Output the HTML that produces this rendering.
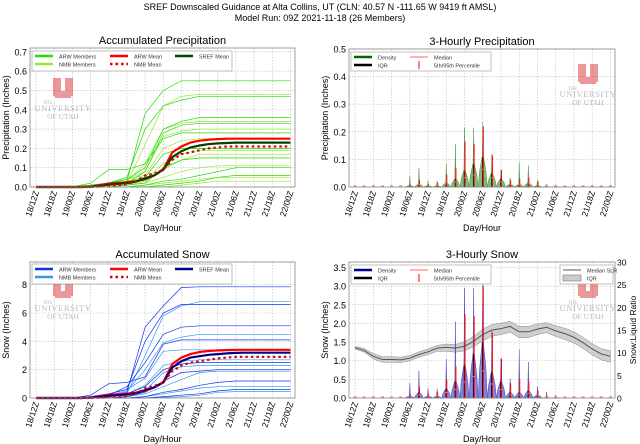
<!DOCTYPE html>
<html><head><meta charset="utf-8">
<style>
html,body{margin:0;padding:0;background:#fff;}
svg{display:block;font-family:"Liberation Sans","DejaVu Sans",sans-serif;}
</style></head>
<body>
<svg id="chart" width="640" height="444" viewBox="0 0 640 444" xmlns="http://www.w3.org/2000/svg">
<text x="320" y="10" font-size="9" text-anchor="middle">SREF Downscaled Guidance at Alta Collins, UT (CLN: 40.57 N -111.65 W 9419 ft AMSL)</text>
<text x="320" y="21" font-size="9" text-anchor="middle">Model Run: 09Z 2021-11-18 (26 Members)</text>
</svg>
<script>
// ---------- data ----------
const tickLabels = ["18/12Z","18/18Z","19/00Z","19/06Z","19/12Z","19/18Z","20/00Z","20/06Z","20/12Z","20/18Z","21/00Z","21/06Z","21/12Z","21/18Z","22/00Z"];
const tickHours = [0,6,12,18,24,30,36,42,48,54,60,66,72,78,84];
const memberHours = [0,6,12,18,24,30,36,42,48,54,60,66,72,78,84];
const meanHours = [0,3,6,9,12,15,18,21,24,27,30,33,36,39,42,45,48,51,54,57,60,63,66,69,72,75,78,81,84];
// accumulated precip members (inches)
const precipArw = [
 [0,0,0,0,0.01,0.03,0.38,0.50,0.55,0.55,0.55,0.55,0.55,0.55,0.55],
 [0,0,0,0,0.02,0.05,0.30,0.42,0.45,0.47,0.47,0.47,0.47,0.47,0.47],
 [0,0,0,0.01,0.02,0.04,0.10,0.30,0.34,0.36,0.36,0.36,0.36,0.36,0.36],
 [0,0,0,0,0.01,0.02,0.08,0.28,0.32,0.33,0.33,0.33,0.33,0.33,0.33],
 [0,0,0,0.02,0.09,0.09,0.12,0.25,0.28,0.28,0.28,0.28,0.28,0.28,0.28],
 [0,0,0,0,0.01,0.03,0.05,0.17,0.20,0.20,0.20,0.20,0.20,0.20,0.20],
 [0,0,0,0,0,0.01,0.02,0.10,0.14,0.15,0.15,0.15,0.15,0.15,0.15],
 [0,0,0,0,0,0,0.01,0.03,0.04,0.06,0.08,0.10,0.10,0.10,0.10],
 [0,0,0,0,0,0,0,0.01,0.02,0.03,0.05,0.06,0.06,0.06,0.06]];
const precipNmb = [
 [0,0,0,0,0.01,0.02,0.22,0.42,0.47,0.48,0.48,0.48,0.48,0.48,0.48],
 [0,0,0,0,0.01,0.03,0.12,0.30,0.33,0.34,0.34,0.34,0.34,0.34,0.34],
 [0,0,0,0,0.02,0.04,0.08,0.26,0.29,0.30,0.30,0.30,0.30,0.30,0.30],
 [0,0,0,0.01,0.02,0.04,0.06,0.20,0.24,0.25,0.25,0.25,0.25,0.25,0.25],
 [0,0,0,0,0.01,0.02,0.04,0.12,0.17,0.19,0.19,0.19,0.19,0.19,0.19],
 [0,0,0,0,0,0.01,0.03,0.09,0.14,0.17,0.17,0.17,0.17,0.17,0.17],
 [0,0,0,0,0,0.01,0.02,0.05,0.08,0.10,0.11,0.11,0.11,0.11,0.11],
 [0,0,0,0,0,0,0.01,0.02,0.03,0.04,0.05,0.05,0.05,0.05,0.05],
 [0,0,0,0,0,0,0,0,0.01,0.02,0.03,0.03,0.03,0.03,0.03]];
const precipArwMean = [0,0,0,0,0,0,0.002,0.01,0.018,0.022,0.025,0.03,0.04,0.06,0.09,0.18,0.21,0.23,0.24,0.245,0.248,0.25,0.25,0.25,0.25,0.25,0.25,0.25,0.25];
const precipNmbMean = [0,0,0,0,0,0,0,0.002,0.005,0.01,0.015,0.03,0.06,0.07,0.09,0.14,0.17,0.18,0.19,0.2,0.205,0.21,0.21,0.21,0.21,0.21,0.21,0.21,0.21];
const precipSrefMean = [0,0,0,0,0,0,0.001,0.006,0.012,0.016,0.02,0.028,0.045,0.06,0.09,0.155,0.185,0.205,0.215,0.222,0.226,0.228,0.23,0.23,0.23,0.23,0.23,0.23,0.23];
// accumulated snow members (inches)
const snowArw = [
 [0,0,0,0,0.2,0.4,5.0,6.5,7.8,7.85,7.85,7.85,7.85,7.85,7.85],
 [0,0,0,0.1,0.3,0.6,4.0,6.0,6.6,6.6,6.6,6.6,6.6,6.6,6.6],
 [0,0,0,0,0.2,0.8,2.5,4.5,5.0,5.1,5.1,5.1,5.1,5.1,5.1],
 [0,0,0,0.2,1.0,1.1,1.5,3.8,4.1,4.1,4.1,4.1,4.1,4.1,4.1],
 [0,0,0,0,0.1,0.3,0.8,2.0,2.4,2.5,2.5,2.5,2.5,2.5,2.5],
 [0,0,0,0,0,0.1,0.4,1.2,1.8,1.9,2.0,2.0,2.0,2.0,2.0],
 [0,0,0,0,0,0,0.1,0.4,0.6,0.9,1.1,1.2,1.2,1.2,1.2],
 [0,0,0,0,0,0,0,0.1,0.2,0.3,0.5,0.6,0.6,0.6,0.6]];
const snowNmb = [
 [0,0,0,0,0.1,0.3,3.0,5.8,6.5,6.8,6.8,6.8,6.8,6.8,6.8],
 [0,0,0,0,0.2,0.5,2.0,3.9,4.3,4.5,4.5,4.5,4.5,4.5,4.5],
 [0,0,0,0.1,0.3,0.6,1.4,3.3,3.4,3.4,3.4,3.4,3.4,3.4,3.4],
 [0,0,0,0,0.1,0.3,0.9,2.3,2.6,2.7,2.7,2.7,2.7,2.7,2.7],
 [0,0,0,0,0,0.1,0.5,1.8,2.2,2.3,2.3,2.3,2.3,2.3,2.3],
 [0,0,0,0,0,0.1,0.3,0.8,1.3,1.8,1.9,1.9,1.9,1.9,1.9],
 [0,0,0,0,0,0,0.1,0.3,0.5,0.7,0.8,0.8,0.8,0.8,0.8],
 [0,0,0,0,0,0,0,0.05,0.1,0.2,0.4,0.45,0.45,0.45,0.45]];
const snowArwMean = [0,0,0,0,0,0,0.03,0.12,0.22,0.26,0.3,0.38,0.5,0.75,1.1,2.4,2.85,3.1,3.25,3.32,3.36,3.38,3.4,3.4,3.4,3.4,3.4,3.4,3.4];
const snowNmbMean = [0,0,0,0,0,0,0,0.02,0.05,0.1,0.15,0.3,0.7,0.85,1.1,1.9,2.3,2.5,2.6,2.7,2.8,2.85,2.9,2.9,2.9,2.9,2.9,2.9,2.9];
const snowSrefMean = [0,0,0,0,0,0,0.02,0.08,0.15,0.2,0.25,0.34,0.55,0.75,1.1,2.15,2.6,2.85,2.95,3.05,3.1,3.15,3.18,3.2,3.2,3.2,3.2,3.2,3.2];
// 3-hourly precip distribution
const pcpMax = [0,0,0,0,0,0,0.04,0.07,0.022,0.022,0.085,0.155,0.215,0.215,0.235,0.12,0.065,0.033,0.09,0.078,0.025,0.012,0.005,0,0,0,0,0,0];
const pcpP95 = [0,0,0,0,0,0,0.01,0.025,0.01,0.015,0.045,0.07,0.165,0.155,0.22,0.115,0.06,0.025,0.03,0.035,0.02,0.005,0,0,0,0,0,0,0];
const pcpQ75 = [0,0,0,0,0,0,0.005,0.01,0.004,0.004,0.015,0.03,0.06,0.085,0.11,0.05,0.03,0.01,0.01,0.015,0.005,0,0,0,0,0,0,0,0];
const pcpMedian = [0,0,0,0,0,0,0.002,0.005,0.002,0.002,0.008,0.015,0.03,0.04,0.06,0.03,0.015,0.005,0.005,0.008,0.002,0,0,0,0,0,0,0,0];
// 3-hourly snow distribution
const snowMax = [0,0,0,0,0,0,0.4,0.73,0.25,0.25,1.05,2.05,2.95,2.95,3.15,1.8,1.08,0.52,1.3,0.97,0.3,0.17,0.08,0,0,0,0,0,0];
const snowP95 = [0,0,0,0,0,0,0.1,0.3,0.12,0.15,0.5,0.85,2.25,2.2,3.0,1.75,1.05,0.4,0.5,0.45,0.2,0.05,0,0,0,0,0,0,0];
const snowQ75 = [0,0,0,0,0,0,0.05,0.15,0.05,0.05,0.25,0.45,0.9,1.2,1.5,0.7,0.45,0.15,0.15,0.2,0.08,0,0,0,0,0,0,0,0];
const snowMedian = [0,0,0,0,0,0,0.02,0.06,0.02,0.02,0.12,0.2,0.4,0.55,0.7,0.35,0.2,0.06,0.06,0.1,0.03,0,0,0,0,0,0,0,0];
const slrMedian = [11.1,10.5,9.2,8.5,8.5,8.4,8.8,9.6,10.2,11,11.2,11,11.4,12.5,14,15,15.3,15.8,14.6,14.6,15.2,15.6,14.8,14.2,13.4,12.2,10.8,9.7,9.2];
const slrQ25 = [10.8,10.1,8.6,7.9,7.9,7.8,8.2,9.0,9.6,10.3,10.3,10.1,10.4,11.3,12.6,13.6,14.0,14.5,13.3,13.3,14.0,14.4,13.6,12.9,12.1,10.9,9.5,8.4,7.9];
const slrQ75 = [11.4,10.9,9.8,9.1,9.1,9.0,9.4,10.2,10.8,11.6,11.9,11.8,12.4,13.6,15.2,16.2,16.5,16.9,15.8,15.8,16.3,16.6,15.9,15.4,14.6,13.4,12.0,10.9,10.4];

// ---------- drawing ----------
const svg = document.getElementById('chart');
const NS = 'http://www.w3.org/2000/svg';
function mk(tag, attrs, parent){ const e=document.createElementNS(NS,tag); for(const k in attrs) e.setAttribute(k,attrs[k]); (parent||svg).appendChild(e); return e; }
const XMIN=-2, XMAX=85.5;
function panel(x0,x1,y0,y1,ymin,ymax){
  return {x0,x1,y0,y1,ymin,ymax,
   sx:h=>x0+(h-XMIN)/(XMAX-XMIN)*(x1-x0),
   sy:v=>y1-(v-ymin)/(ymax-ymin)*(y1-y0)};
}
function axes(p,name,title,ylabel,yticks,yfmt){
  const g=mk('g',{});
  
  
  tickHours.forEach((h,i)=>{
    const x=p.sx(h);
    const l=mk('line',{x1:x,x2:x,y1:p.y0,y2:p.y1,stroke:'#bbb','stroke-width':0.6,'stroke-dasharray':'1.5,1.5'},g);
    
    
    const t=mk('text',{'font-size':8.5,'text-anchor':'end',transform:`translate(${x+3},${p.y1+5}) rotate(-72)`},g);
    t.textContent=tickLabels[i];
    
    
  });
  yticks.forEach(v=>{
    const y=p.sy(v);
    const l=mk('line',{x1:p.x0,x2:p.x1,y1:y,y2:y,stroke:'#bbb','stroke-width':0.6,'stroke-dasharray':'1.5,1.5'},g);
    
    
    const t=mk('text',{x:p.x0-3,y:y+3.5,'font-size':9,'text-anchor':'end'},g);
    t.textContent=yfmt(v);
    
    
  });
  const tt=mk('text',{x:(p.x0+p.x1)/2,y:p.y0-4,'font-size':11,'text-anchor':'middle'},g);
  tt.textContent=title;
  
  
  const yl=mk('text',{'font-size':9,'text-anchor':'middle',transform:`translate(${p.x0-21},${(p.y0+p.y1)/2}) rotate(-90)`},g);
  yl.textContent=ylabel;
  
  
  const xl=mk('text',{x:(p.x0+p.x1)/2,y:p.y1+44,'font-size':9,'text-anchor':'middle'},g);
  xl.textContent='Day/Hour';
  
  
  return g;
}
function frame(p){
  const r=mk('rect',{x:p.x0,y:p.y0,width:p.x1-p.x0,height:p.y1-p.y0,fill:'none',stroke:'#888','stroke-width':0.8});
  
  
}
function line(p,hours,vals,color,w,dash,name){
  const d=vals.map((v,i)=>(i?'L':'M')+p.sx(hours[i]).toFixed(1)+','+p.sy(v).toFixed(1)).join('');
  const e=mk('path',{d,fill:'none',stroke:color,'stroke-width':w,'stroke-dasharray':dash||'none'});
  
  
}
function logo(cx,cy){
  const g=mk('g',{opacity:0.4});
  
  
  mk('path',{d:`M${cx-10},${cy-18}h8v13h4v-13h8v18h-2v2h-16v-2h-2z`,fill:'#cc0000'},g);
  const a=mk('text',{x:cx-20,y:cy+8,'font-size':5,fill:'#555','font-family':'Liberation Serif, serif'},g); a.textContent='THE';
  const b=mk('text',{x:cx,y:cy+15,'font-size':8.5,fill:'#555','text-anchor':'middle','font-family':'Liberation Serif, serif','letter-spacing':'0.6'},g); b.textContent='UNIVERSITY';
  const c=mk('text',{x:cx,y:cy+23,'font-size':7.5,fill:'#555','text-anchor':'middle','font-family':'Liberation Serif, serif'},g); c.textContent='OF UTAH';
}
function legend(x,y,w,h,items){
  const g=mk('g',{});
  
  
  mk('rect',{x,y,width:w,height:h,fill:'#fff',stroke:'#999','stroke-width':0.6},g);
  items.forEach(it=>{
    const e=mk('g',{},g);
    
    
    if(it.type==='line') mk('line',{x1:it.x,x2:it.x+18,y1:it.y,y2:it.y,stroke:it.c,'stroke-width':it.w||2.5,'stroke-dasharray':it.dash||'none'},e);
    if(it.type==='tick') mk('line',{x1:it.x+9,x2:it.x+9,y1:it.y-4,y2:it.y+4,stroke:it.c,'stroke-width':1},e);
    if(it.type==='box') mk('rect',{x:it.x,y:it.y-3,width:18,height:6,fill:'#ccc',stroke:'#777','stroke-width':0.6},e);
    const t=mk('text',{x:it.x+24,y:it.y+2.5,'font-size':5.5,fill:'#333'},e);
    t.textContent=it.t;
  });
}

// Panel 1: accumulated precip
const p1=panel(30,295,48,187,0,0.72);
axes(p1,'accumulated-precipitation-axes','Accumulated Precipitation','Precipitation (Inches)',[0,0.1,0.2,0.3,0.4,0.5,0.6,0.7],v=>v.toFixed(1));
logo(63,96);
precipNmb.forEach(m=>line(p1,memberHours,m,'#99e633',0.7,null,'nmb-member-line'));
precipArw.forEach(m=>line(p1,memberHours,m,'#22dd00',0.7,null,'arw-member-line'));
line(p1,meanHours,precipArwMean,'#ff0000',2.2,null,'arw-mean-line');
line(p1,meanHours,precipSrefMean,'#004400',2.2,null,'sref-mean-line');
line(p1,meanHours,precipNmbMean,'#dd0000',2.2,'2.5,3','nmb-mean-line');
frame(p1);
legend(32,51,200,20,[
 {type:'line',x:35,y:56,c:'#22dd00',t:'ARW Members'},{type:'line',x:35,y:64,c:'#99e633',t:'NMB Members'},
 {type:'line',x:110,y:56,c:'#ff0000',t:'ARW Mean'},{type:'line',x:110,y:64,c:'#dd0000',dash:'2.5,3',t:'NMB Mean'},
 {type:'line',x:175,y:56,c:'#004400',t:'SREF Mean'}]);

// Panel 3: accumulated snow
const p3=panel(30,295,262,398,0,9.6);
axes(p3,'accumulated-snow-axes','Accumulated Snow','Snow (Inches)',[0,2,4,6,8],v=>String(v));
logo(63,296);
snowNmb.forEach(m=>line(p3,memberHours,m,'#3399ee',0.7,null,'nmb-member-line'));
snowArw.forEach(m=>line(p3,memberHours,m,'#1133ee',0.7,null,'arw-member-line'));
line(p3,meanHours,snowArwMean,'#ff0000',2.2,null,'arw-mean-line');
line(p3,meanHours,snowSrefMean,'#000088',2.2,null,'sref-mean-line');
line(p3,meanHours,snowNmbMean,'#dd0000',2.2,'2.5,3','nmb-mean-line');
frame(p3);
legend(32,264,200,20,[
 {type:'line',x:35,y:269,c:'#1133ee',t:'ARW Members'},{type:'line',x:35,y:277,c:'#3399ee',t:'NMB Members'},
 {type:'line',x:110,y:269,c:'#ff0000',t:'ARW Mean'},{type:'line',x:110,y:277,c:'#dd0000',dash:'2.5,3',t:'NMB Mean'},
 {type:'line',x:175,y:269,c:'#000088',t:'SREF Mean'}]);

function violins(p,maxA,p95,q75,med,fill,dark){
  meanHours.forEach((h,i)=>{
    const x=p.sx(h), y0=p.sy(0);
    if(maxA[i]>0){
      const yt=p.sy(maxA[i]), ym=p.sy(q75[i]);
      const v=mk('path',{d:`M${x-4.5},${y0}Q${x-4},${(y0+ym)/2} ${x-0.6},${ym}L${x},${yt}L${x+0.6},${ym}Q${x+4},${(y0+ym)/2} ${x+4.5},${y0}Z`,fill:fill,'fill-opacity':0.6,stroke:fill,'stroke-width':0.4});
      
      
      const iq=mk('line',{x1:x,x2:x,y1:y0,y2:ym,stroke:dark,'stroke-width':1.5});
      
      
      const pc=mk('line',{x1:x+0.5,x2:x+0.5,y1:y0,y2:p.sy(p95[i]),stroke:'#ff0000','stroke-width':1});
      
      
    }
    const md=mk('line',{x1:x-1.5,x2:x+1.5,y1:p.sy(med[i])-1,y2:p.sy(med[i])-1,stroke:'#ff6666','stroke-width':1});
    
    
  });
}

// Panel 2: 3-hourly precip
const p2=panel(349,615,49,187,0,0.5);
axes(p2,'three-hourly-precipitation-axes','3-Hourly Precipitation','Precipitation (Inches)',[0,0.1,0.2,0.3,0.4,0.5],v=>v.toFixed(1));
logo(588,82);
violins(p2,pcpMax,pcpP95,pcpQ75,pcpMedian,'#2e8b2e','#003300');
frame(p2);
legend(351,52,140,19,[
 {type:'line',x:354,y:57,c:'#006600',t:'Density'},{type:'line',x:354,y:65,c:'#000',t:'IQR'},
 {type:'line',x:410,y:57,c:'#ff6666',w:1,t:'Median'},{type:'tick',x:410,y:65,c:'#ff0000',t:'5th/95th Percentile'}]);

// Panel 4: 3-hourly snow
const p4=panel(349,615,262,398,0,3.65);
axes(p4,'three-hourly-snow-axes','3-Hourly Snow','Snow (Inches)',[0,0.5,1,1.5,2,2.5,3,3.5],v=>v.toFixed(1));
const slrMax=30;
const sy2=v=>p4.y1-v/slrMax*(p4.y1-p4.y0);
[0,5,10,15,20,25,30].forEach(v=>{
  const t=mk('text',{x:p4.x1+2,y:sy2(v)+3.5,'font-size':8.5});
  t.textContent=String(v);
  
  
});
const r2=mk('text',{'font-size':8.5,'text-anchor':'middle',transform:`translate(${p4.x1+21},${(p4.y0+p4.y1)/2}) rotate(-90)`});
r2.textContent='Snow:Liquid Ratio';


logo(588,296);
{
  const top=slrQ75.map((v,i)=>(i?'L':'M')+p4.sx(meanHours[i]).toFixed(1)+','+sy2(v).toFixed(1)).join('');
  const bot=slrQ25.map((v,i)=>'L'+p4.sx(meanHours[i]).toFixed(1)+','+sy2(v).toFixed(1)).reverse().join('');
  const band=mk('path',{d:top+bot+'Z',fill:'#bbb','fill-opacity':0.7,stroke:'#888','stroke-width':0.5});
  
  
  const d=slrMedian.map((v,i)=>(i?'L':'M')+p4.sx(meanHours[i]).toFixed(1)+','+sy2(v).toFixed(1)).join('');
  const ml=mk('path',{d,fill:'none',stroke:'#555','stroke-width':1});
  
  
}
violins(p4,snowMax,snowP95,snowQ75,snowMedian,'#3333bb','#000033');
frame(p4);
legend(351,265,140,19,[
 {type:'line',x:354,y:270,c:'#000088',t:'Density'},{type:'line',x:354,y:278,c:'#000',t:'IQR'},
 {type:'line',x:410,y:270,c:'#ff6666',w:1,t:'Median'},{type:'tick',x:410,y:278,c:'#ff0000',t:'5th/95th Percentile'}]);
legend(560,265,53,19,[
 {type:'line',x:563,y:270,c:'#555',w:1,t:'Median SLR'},{type:'box',x:563,y:278,t:'IQR'}]);
</script>
</body></html>
